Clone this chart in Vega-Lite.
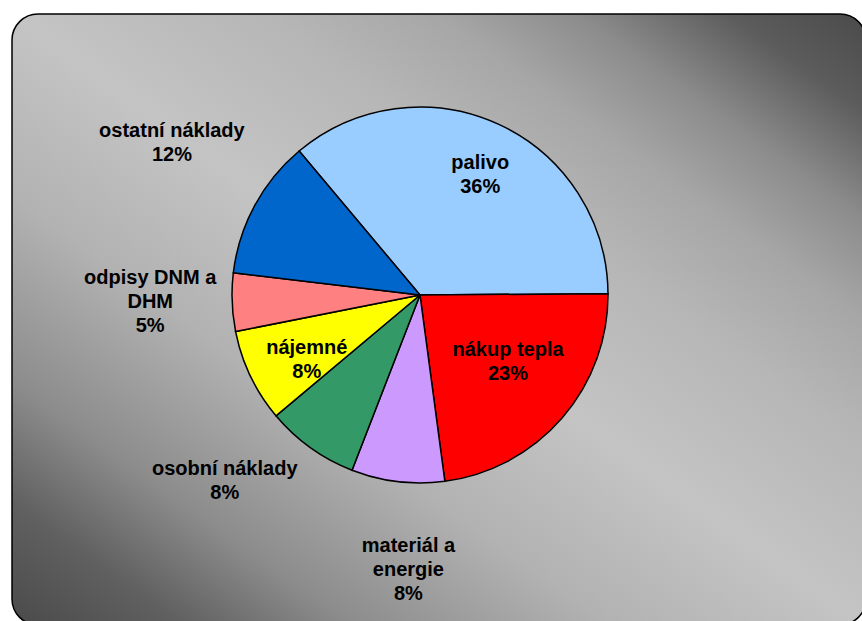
{
  "$schema": "https://vega.github.io/schema/vega-lite/v6.json",
  "width": 854,
  "height": 611,
  "autosize": {"type": "none"},
  "padding": {"left": 12, "top": 14, "right": 0, "bottom": 0},
  "background": "white",
  "config": {
    "view": {"stroke": null},
    "text": {"font": "Liberation Sans", "fontSize": 20, "fontWeight": "bold", "color": "black", "lineBreak": "\n", "lineHeight": 24}
  },
  "data": {
    "values": [
      {"category": "palivo", "value": 36, "label": "palivo\n36%"},
      {"category": "nákup tepla", "value": 23, "label": "nákup tepla\n23%"},
      {"category": "materiál a energie", "value": 8, "label": "materiál a\nenergie\n8%"},
      {"category": "osobní náklady", "value": 8, "label": "osobní náklady\n8%"},
      {"category": "nájemné", "value": 8, "label": "nájemné\n8%"},
      {"category": "odpisy DNM a DHM", "value": 5, "label": "odpisy DNM a\nDHM\n5%"},
      {"category": "ostatní náklady", "value": 12, "label": "ostatní náklady\n12%"}
    ]
  },
  "layer": [
    {
      "data": {"values": [{"box": 1}]},
      "mark": {"type": "rect", "cornerRadius": 26, "stroke": "black", "strokeWidth": 1.5,
        "fill": {"gradient": "linear", "x1": 0, "y1": 1, "x2": 1, "y2": 0,
          "stops": [
            {"offset": 0, "color": "#4a4a4a"},
            {"offset": 0.1, "color": "#606060"},
            {"offset": 0.2, "color": "#8c8c8c"},
            {"offset": 0.35, "color": "#b2b2b2"},
            {"offset": 0.5, "color": "#c4c4c4"},
            {"offset": 0.65, "color": "#b6b6b6"},
            {"offset": 0.75, "color": "#a6a6a6"},
            {"offset": 0.83, "color": "#8c8c8c"},
            {"offset": 0.92, "color": "#5c5c5c"},
            {"offset": 1, "color": "#4a4a4a"}
          ]}},
      "encoding": {
        "x": {"value": 0}, "x2": {"value": "width"},
        "y": {"value": 0}, "y2": {"value": "height"}
      }
    },
    {
      "transform": [
        {"window": [{"op": "row_number", "as": "rank"}]},
        {"stack": "value", "groupby": [], "sort": [{"field": "rank", "order": "ascending"}], "as": ["v0", "v1"]},
        {"calculate": "(datum.v0 + datum.v1) / 2", "as": "mid"}
      ],
      "layer": [
        {
          "mark": {"type": "arc", "radius": 188, "x": 408, "y": 281, "stroke": "black", "strokeWidth": 1.5},
          "encoding": {
            "theta": {"field": "v0", "type": "quantitative", "scale": {"domain": [0, 100], "range": [-0.6981, 5.5851]}},
            "theta2": {"field": "v1"},
            "color": {"field": "category", "type": "nominal", "legend": null,
              "scale": {"domain": ["palivo", "nákup tepla", "materiál a energie", "osobní náklady", "nájemné", "odpisy DNM a DHM", "ostatní náklady"],
                        "range": ["#99CCFF", "#FF0000", "#CC99FF", "#339966", "#FFFF00", "#FF8080", "#0066CC"]}}
          }
        },
        {
          "transform": [{"filter": "datum.category === 'palivo'"}],
          "mark": {"type": "text", "x": 408, "y": 281, "radius": 134, "dx": 4, "dy": -10},
          "encoding": {"theta": {"field": "mid", "type": "quantitative"}, "text": {"field": "label"}}
        },
        {
          "transform": [{"filter": "datum.category === 'nákup tepla'"}],
          "mark": {"type": "text", "x": 408, "y": 281, "radius": 110, "dx": 5, "dy": -17},
          "encoding": {"theta": {"field": "mid", "type": "quantitative"}, "text": {"field": "label"}}
        },
        {
          "transform": [{"filter": "datum.category === 'materiál a energie'"}],
          "mark": {"type": "text", "x": 408, "y": 281, "radius": 275, "dx": 21, "dy": -22},
          "encoding": {"theta": {"field": "mid", "type": "quantitative"}, "text": {"field": "label"}}
        },
        {
          "transform": [{"filter": "datum.category === 'osobní náklady'"}],
          "mark": {"type": "text", "x": 408, "y": 281, "radius": 265, "dx": -41, "dy": -41},
          "encoding": {"theta": {"field": "mid", "type": "quantitative"}, "text": {"field": "label"}}
        },
        {
          "transform": [{"filter": "datum.category === 'nájemné'"}],
          "mark": {"type": "text", "x": 408, "y": 281, "radius": 130, "dx": 4, "dy": -3},
          "encoding": {"theta": {"field": "mid", "type": "quantitative"}, "text": {"field": "label"}}
        },
        {
          "transform": [{"filter": "datum.category === 'odpisy DNM a DHM'"}],
          "mark": {"type": "text", "x": 408, "y": 281, "radius": 270, "dx": 0, "dy": -27},
          "encoding": {"theta": {"field": "mid", "type": "quantitative"}, "text": {"field": "label"}}
        },
        {
          "transform": [{"filter": "datum.category === 'ostatní náklady'"}],
          "mark": {"type": "text", "x": 408, "y": 281, "radius": 290, "dx": 7, "dy": -26},
          "encoding": {"theta": {"field": "mid", "type": "quantitative"}, "text": {"field": "label"}}
        }
      ]
    }
  ]
}
